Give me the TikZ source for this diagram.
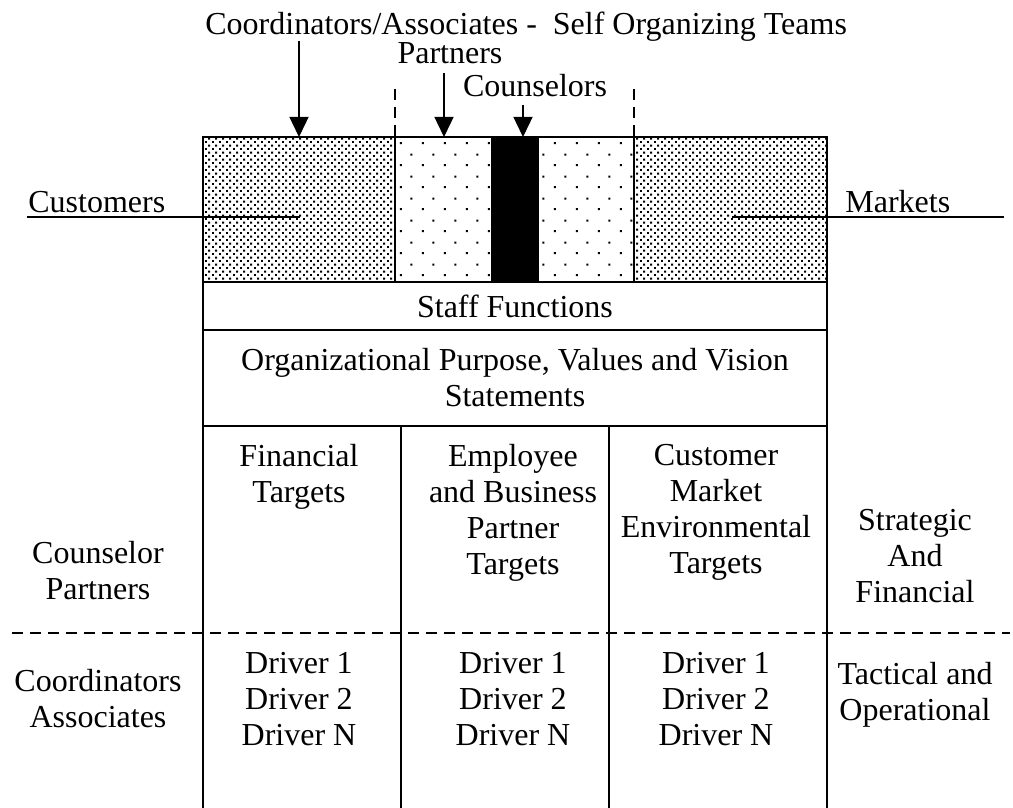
\documentclass[tikz,border=0pt]{standalone}
\usepackage{fontspec}
\setmainfont{Liberation Serif}
\usetikzlibrary{arrows.meta,patterns}
% dot fills of the top strip
\pgfdeclarepatternformonly{densedots}{\pgfpointorigin}{\pgfqpoint{3.3pt}{3.7pt}}{\pgfqpoint{3.3pt}{3.7pt}}{%
    \pgfpathrectangle{\pgfqpoint{0pt}{0pt}}{\pgfqpoint{1pt}{1pt}}%
    \pgfpathrectangle{\pgfqpoint{1.65pt}{1.85pt}}{\pgfqpoint{1pt}{1pt}}%
    \pgfusepath{fill}}
\pgfdeclarepatternformonly{sparsedots}{\pgfpointorigin}{\pgfqpoint{11pt}{11pt}}{\pgfqpoint{11pt}{11pt}}{%
    \pgfpathrectangle{\pgfqpoint{2pt}{2pt}}{\pgfqpoint{1pt}{1pt}}%
    \pgfpathrectangle{\pgfqpoint{7.5pt}{7.5pt}}{\pgfqpoint{1pt}{1pt}}%
    \pgfusepath{fill}}
\tikzset{
    lbl/.style = {inner sep=0pt, align=center,
        font=\fontsize{16}{18}\selectfont},
    frame/.style = {draw, line width=1.35pt},
    divider/.style = {draw, line width=1pt},
    dashline/.style = {draw, line width=1.1pt, dash pattern=on 5.5pt off 3.5pt},
    arrow/.style = {draw, line width=0.7pt, -{Triangle[length=10pt,width=9.5pt]}},
    rule/.style = {draw, line width=0.7pt}
}

\begin{document}
\begin{tikzpicture}[x=0.5pt,y=-0.5pt]
    \useasboundingbox (0,0) rectangle (1013,808);
    % top strip
    \fill[pattern=densedots] (203,137) rectangle (395,282);
    \fill[pattern=sparsedots] (395,137) rectangle (491,282);
    \fill[black] (491,137) rectangle (539,282);
    \fill[pattern=sparsedots] (539,137) rectangle (634,282);
    \fill[pattern=densedots] (634,137) rectangle (827,282);
    % frame and rows
    \draw[frame] (203,808) -- (203,137) -- (827,137) -- (827,808);
    \foreach \y in {282,330,426}
        \draw[frame] (203,\y) -- (827,\y);
    \draw[divider] (395,137) -- (395,282) (634,137) -- (634,282);
    \draw[divider] (401,426) -- (401,808) (609,426) -- (609,808);
    \draw[dashline] (395,89) -- (395,137) (634,89) -- (634,137);
    \draw[dashline] (12,633) -- (1010,633);

    % labels above
    \node[lbl, anchor=base west] (teams) at (205,35) {Coordinators/Associates -\ \ Self Organizing Teams};
    \node[lbl, anchor=base] (partners) at (450,64) {Partners};
    \node[lbl, anchor=base] (counselors) at (535,97) {Counselors};
    \coordinate (teamsend) at (299,41);
    \coordinate (teamstip) at (299,137);
    \coordinate (partnersend) at (444,73);
    \coordinate (partnerstip) at (444,137);
    \coordinate (counselorsend) at (523,105);
    \coordinate (counselorstip) at (523,137);
    \draw[arrow] (teamsend) -- (teamstip);
    \draw[arrow] (partnersend) -- (partnerstip);
    \draw[arrow] (counselorsend) -- (counselorstip);

    % side lines
    \node[lbl, anchor=base west] (customers) at (28,213) {Customers};
    \node[lbl, anchor=base west] (markets) at (845,213) {Markets};
    \coordinate (custa) at (27,217);
    \coordinate (custb) at (300,217);
    \coordinate (marka) at (732,217);
    \coordinate (markb) at (1004,217);
    \draw[rule] (custa) -- (custb);
    \draw[rule] (marka) -- (markb);

    % rows
    \node[lbl] (staff) at (515,306) {Staff Functions};
    \node[lbl] (purpose) at (515,378) {Organizational Purpose, Values and Vision\\Statements};

    % columns
    \node[lbl, anchor=north] (fin) at (299,444) {Financial\\Targets};
    \node[lbl, anchor=north] (emp) at (513,444) {Employee\\and Business\\Partner\\Targets};
    \node[lbl, anchor=north] (cust) at (716,444) {Customer\\Market\\Environmental\\Targets};
    \foreach \x/\n in {299/drva,513/drvb,716/drvc}
        \node[lbl, anchor=north] (\n) at (\x,652) {Driver 1\\Driver 2\\Driver N};

    % side texts
    \node[lbl, anchor=north] (cpart) at (98,541) {Counselor\\Partners};
    \node[lbl, anchor=north] (cassoc) at (98,669) {Coordinators\\Associates};
    \node[lbl, anchor=north] (strat) at (915,509) {Strategic\\And\\Financial};
    \node[lbl, anchor=north] (tact) at (915,662) {Tactical and\\Operational};
\end{tikzpicture}
\end{document}
